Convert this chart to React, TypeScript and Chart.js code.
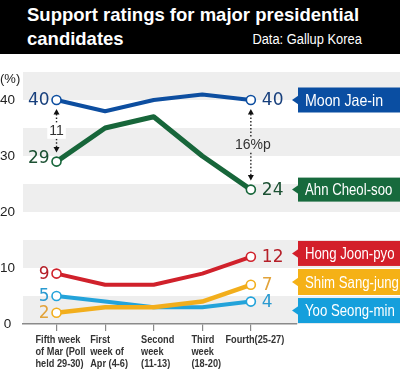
import React, { useEffect, useRef } from 'react';
import { Chart, registerables } from 'chart.js';

Chart.register(...registerables);

// ---------- data ----------
const weekLabels: string[][] = [
  ['Fifth week', 'of Mar (Poll', 'held 29-30)'],
  ['First', 'week of', 'Apr (4-6)'],
  ['Second', 'week', '(11-13)'],
  ['Third', 'week', '(18-20)'],
  ['Fourth(25-27)'],
];
const candidates = ['Moon Jae-in', 'Ahn Cheol-soo', 'Hong Joon-pyo', 'Shim Sang-jung', 'Yoo Seong-min'];
const moon = [40, 38, 40, 41, 40];
const ahn = [29, 35, 37, 30, 24];
const hong = [9, 7, 7, 9, 12];
const shim = [2, 3, 3, 4, 7];
const yoo = [5, 4, 3, 3, 4];
const yTickValues = [0, 10, 20, 30, 40];
const gapFirst = '11';
const gapLast = '16%p';

// ---------- styles / layout ----------
const lineColors = ['#0d4ea0', '#17663a', '#d0212b', '#f2ae1c', '#23a3da'];
const numColors = ['#173f7c', '#1c5133', '#b51f28', '#e2a33a', '#2a9ad0'];
const tagColors = ['#0a4ea2', '#176a3d', '#d31f2a', '#f5b116', '#159fdc'];
const lineWidths = [4, 5, 4, 4.5, 4];
const tagCenter = [40, 24, 12.6, 7.5, 2.4];
const tagHeight = [25, 24, 25, 26, 25];
const tagCondense = [0.86, 0.8, 0.8, 0.8, 0.8];
const leftLabelDy = [0, -4, 0, 0, 0];
const BAND = '#eeeeee';
const CONDENSE = 0.78;

const series = [moon, ahn, hong, shim, yoo];

function condensedText(ctx: CanvasRenderingContext2D, text: string, x: number, y: number, sx: number) {
  ctx.save();
  ctx.translate(x, y);
  ctx.scale(sx, 1);
  ctx.fillText(text, 0, 0);
  ctx.restore();
}

const decorPlugin = {
  id: 'decor',
  beforeDraw(chart: any) {
    const { ctx, chartArea, scales } = chart;
    const y = scales.y;
    ctx.save();
    ctx.fillStyle = BAND;
    for (let v = 0; v < 45; v += 10) {
      const top = y.getPixelForValue(Math.min(v + 5, 45));
      const bot = y.getPixelForValue(v);
      ctx.fillRect(chartArea.left, top, chart.width - chartArea.left, bot - top);
    }
    ctx.restore();
  },
  afterDraw(chart: any) {
    // x-axis category labels (left-aligned condensed blocks under each tick)
    const { ctx, chartArea, scales } = chart;
    const x = scales.x;
    ctx.save();
    ctx.fillStyle = '#333';
    ctx.font = 'bold 11.8px "Liberation Sans", sans-serif';
    ctx.textAlign = 'left';
    ctx.textBaseline = 'middle';
    weekLabels.forEach((lines, i) => {
      const px = x.getPixelForValue(i);
      const bw = Math.max(...lines.map((l) => ctx.measureText(l).width)) * CONDENSE;
      const left = px - bw / 2 + 4;
      lines.forEach((l, k) => {
        condensedText(ctx, l, left, chartArea.bottom + 16 + k * 12, CONDENSE);
      });
    });
    ctx.restore();
  },
  afterDatasetsDraw(chart: any) {
    const { ctx, chartArea, scales } = chart;
    const y = scales.y;
    ctx.save();
    // (%)
    ctx.fillStyle = '#222';
    ctx.font = '13px "Liberation Sans", sans-serif';
    ctx.textAlign = 'left';
    ctx.textBaseline = 'middle';
    ctx.fillText('(%)', 0, chartArea.top + 7.5);

    // value labels
    ctx.font = '17px "DejaVu Sans", sans-serif';
    series.forEach((d, i) => {
      const meta = chart.getDatasetMeta(i);
      const p0 = meta.data[0];
      const pn = meta.data[d.length - 1];
      ctx.fillStyle = numColors[i];
      ctx.textAlign = 'right';
      ctx.fillText(String(d[0]), p0.x - 7, p0.y + 1 + leftLabelDy[i]);
      ctx.textAlign = 'left';
      ctx.fillText(String(d[d.length - 1]), pn.x + 11, pn.y + 1);
    });

    // tags
    series.forEach((_, i) => {
      const cy = y.getPixelForValue(tagCenter[i]);
      const h = tagHeight[i];
      const left = chartArea.right + 1;
      const tip = chartArea.right - 5;
      ctx.fillStyle = tagColors[i];
      ctx.fillRect(left, cy - h / 2, chart.width - left, h);
      ctx.beginPath();
      ctx.moveTo(tip, cy);
      ctx.lineTo(left + 0.5, cy - 4.5);
      ctx.lineTo(left + 0.5, cy + 4.5);
      ctx.closePath();
      ctx.fill();
      ctx.fillStyle = '#fff';
      ctx.font = '16.5px "Liberation Sans", sans-serif';
      ctx.textAlign = 'left';
      ctx.textBaseline = 'middle';
      condensedText(ctx, candidates[i], left + 7, cy + 1, tagCondense[i]);
    });

    // dotted arrows
    const drawArrow = (idx: number, label: string, box: boolean, labelDx: number) => {
      const a = chart.getDatasetMeta(0).data[idx];
      const b = chart.getDatasetMeta(1).data[idx];
      const x = a.x;
      const y1 = a.y + 9;
      const y2 = b.y - 9;
      const mid = (a.y + b.y) / 2;
      ctx.font = '14px "Liberation Sans", sans-serif';
      const tw = ctx.measureText(label).width;
      const half = 8;
      ctx.strokeStyle = '#222';
      ctx.lineWidth = 1.4;
      ctx.setLineDash([1.5, 2]);
      ctx.beginPath();
      ctx.moveTo(x, y1 + 5);
      ctx.lineTo(x, mid - half);
      ctx.moveTo(x, mid + half);
      ctx.lineTo(x, y2 - 5);
      ctx.stroke();
      ctx.setLineDash([]);
      ctx.fillStyle = '#111';
      ctx.beginPath();
      ctx.moveTo(x, y1);
      ctx.lineTo(x - 3, y1 + 5.5);
      ctx.lineTo(x + 3, y1 + 5.5);
      ctx.closePath();
      ctx.fill();
      ctx.beginPath();
      ctx.moveTo(x, y2);
      ctx.lineTo(x - 3, y2 - 5.5);
      ctx.lineTo(x + 3, y2 - 5.5);
      ctx.closePath();
      ctx.fill();
      if (box) {
        ctx.fillStyle = '#fff';
        ctx.fillRect(x + labelDx - tw / 2 - 2, mid - half, tw + 4, half * 2);
      }
      ctx.fillStyle = '#333';
      ctx.textAlign = 'center';
      ctx.textBaseline = 'middle';
      ctx.fillText(label, x + labelDx, mid + 0.5);
    };
    drawArrow(0, gapFirst, true, 0);
    drawArrow(4, gapLast, false, 2);
    ctx.restore();
  },
};

export default function App() {
  const ref = useRef<HTMLCanvasElement>(null);
  useEffect(() => {
    document.body.style.margin = '0';
    const canvas = ref.current!;
    const chart = new Chart(canvas, {
      type: 'line',
      data: {
        datasets: series.map((d, i) => ({
          label: candidates[i],
          data: d.map((v, j) => ({ x: j, y: v })),
          borderColor: lineColors[i],
          backgroundColor: lineColors[i],
          borderWidth: lineWidths[i],
          pointRadius: (c: any) => (c.dataIndex === 0 || c.dataIndex === d.length - 1 ? 4.5 : 0),
          pointHoverRadius: 0,
          pointBackgroundColor: '#fff',
          pointBorderColor: lineColors[i],
          pointBorderWidth: 1.6,
          tension: 0,
          borderJoinStyle: 'round',
          borderCapStyle: 'round',
          clip: false,
        })) as any,
      },
      options: {
        animation: false,
        responsive: false,
        events: [],
        layout: { padding: { top: 18, right: 103, left: 0, bottom: 0 } },
        plugins: { legend: { display: false }, tooltip: { enabled: false } },
        scales: {
          x: {
            type: 'linear',
            min: -0.69,
            max: 4.95,
            afterBuildTicks: (s: any) => {
              s.ticks = weekLabels.map((_, i) => ({ value: i }));
            },
            afterFit: (s: any) => {
              s.height = 48;
            },
            ticks: {
              display: false,
              callback: (v: any) => weekLabels[v as number],
            },
            grid: { drawOnChartArea: false, drawTicks: true, tickLength: 7, color: '#8a8a8a', lineWidth: 1.2 },
            border: { display: true, color: '#8a8a8a', width: 1.5 },
          },
          y: {
            type: 'linear',
            min: 0,
            max: 45,
            afterBuildTicks: (s: any) => {
              s.ticks = yTickValues.map((v) => ({ value: v }));
            },
            afterFit: (s: any) => {
              s.width = 23;
            },
            ticks: {
              font: { family: '"Liberation Sans", sans-serif', size: 13.5 },
              color: '#222',
              padding: 8,
              crossAlign: 'center',
            },
            grid: { display: false, drawTicks: false },
            border: { display: false },
          },
        },
      } as any,
      plugins: [decorPlugin],
    });
    return () => chart.destroy();
  }, []);

  return (
    <div style={{ position: 'relative', width: 400, height: 372, background: '#fff', overflow: 'hidden' }}>
      <div style={{ position: 'absolute', left: 0, top: 0, width: 400, height: 54, background: '#000' }}>
        <div
          style={{
            position: 'absolute',
            left: 27,
            top: 3,
            color: '#fff',
            fontFamily: '"Liberation Sans", sans-serif',
            fontWeight: 'bold',
            fontSize: 18.5,
            lineHeight: '24px',
            whiteSpace: 'nowrap',
          }}
        >
          <div>Support ratings for major presidential</div>
          <div>candidates</div>
        </div>
        <div
          style={{
            position: 'absolute',
            right: 38,
            top: 30,
            color: '#fff',
            fontFamily: '"Liberation Sans", sans-serif',
            fontSize: 15.5,
            lineHeight: '18px',
            whiteSpace: 'nowrap',
            transform: 'scaleX(0.83)',
            transformOrigin: 'right center',
          }}
        >
          Data: Gallup Korea
        </div>
      </div>
      <div style={{ position: 'absolute', left: 0, top: 54, width: 400, height: 318 }}>
        <canvas ref={ref} width={400} height={318} style={{ display: 'block', width: 400, height: 318 }} />
      </div>
    </div>
  );
}
